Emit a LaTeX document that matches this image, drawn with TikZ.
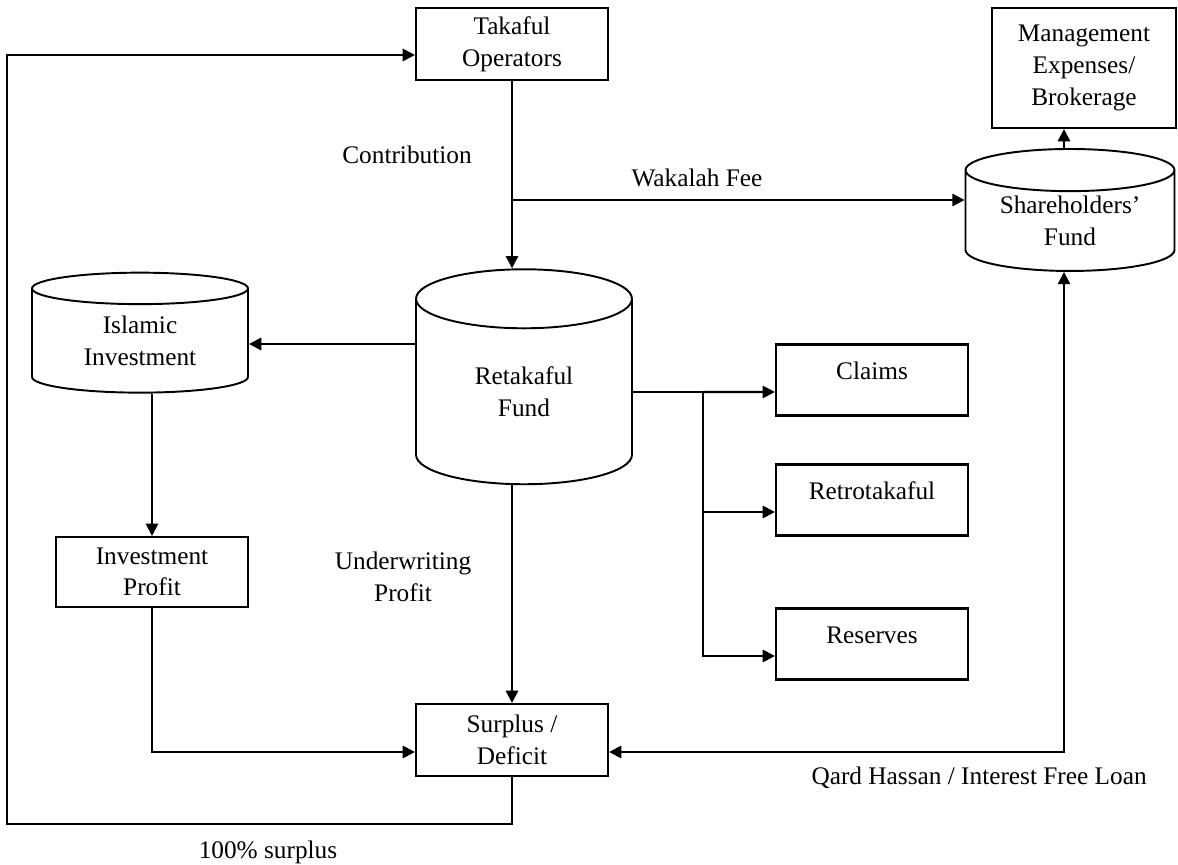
\documentclass[tikz,border=0pt]{standalone}
\usepackage{fontspec}
\setmainfont{Liberation Serif}
\usetikzlibrary{shapes.geometric,arrows.meta}

\tikzset{
  box/.style={draw, line width=1.2pt, rectangle, align=center, inner sep=0pt,
    minimum width=3.84cm, minimum height=1.42cm},
  topbox/.style={box, text depth=0.36cm},
  fund/.style={draw, line width=1.1pt, cylinder, shape border rotate=90,
    align=center, inner sep=0pt, minimum width=4.32cm},
  flow/.style={line width=1.2pt, -{Triangle[length=7pt,width=7pt]}},
  twoway/.style={line width=1.2pt, {Triangle[length=7pt,width=7pt]}-{Triangle[length=7pt,width=7pt]}},
  lbl/.style={align=center, inner sep=0pt}
}

\begin{document}
\begin{tikzpicture}[x=0.02cm, y=-0.02cm, font=\fontsize{14.4}{18}\selectfont]
\useasboundingbox (0,0) rectangle (1178,865);

% boxes
\node[box, minimum height=1.44cm] (takaful) at (512,44) {Takaful\\Operators};
\node[box, minimum width=3.68cm, minimum height=2.4cm] (mgmt) at (1084,68) {Management\\Expenses/\\Brokerage};
\node[topbox] (claims) at (872,380) {Claims};
\node[topbox] (retro) at (872,500) {Retrotakaful};
\node[topbox] (reserves) at (872,644) {Reserves};
\node[box, minimum height=1.4cm] (invprofit) at (152,572) {Investment\\Profit};
\node[box, minimum height=1.44cm] (surplus) at (512,740) {Surplus /\\Deficit};

% funds
\node[fund, minimum width=4.18cm, minimum height=2.44cm, aspect=0.3] (share) at (1070,221) {Shareholders'\\Fund};
\node[fund, minimum height=2.4cm, aspect=0.28] (islamic) at (140,341) {Islamic\\Investment};
\node[fund, minimum height=4.3cm, aspect=0.6] (retakaful) at (524,392) {Retakaful\\Fund};

% labels
\node[lbl] (contrib) at (407,155) {Contribution};
\node[lbl] (wakalah) at (697,178) {Wakalah Fee};
\node[lbl] (uwprofit) at (403,577) {Underwriting\\Profit};
\node[lbl, anchor=east] (qard) at (1147,778) {Qard Hassan / Interest Free Loan};
\node[lbl] (hundred) at (268,852) {100\% surplus};

\coordinate (wk) at (512,200);
\coordinate (split) at (703,392);
\coordinate (qx) at (1064,0);
\coordinate (loop) at (7,824);

% connectors
\draw[flow] (takaful.south) -- (takaful.south |- retakaful.north);
\draw[flow] (wk) -- (wk -| share.west);
\draw[flow] (retakaful.west |- 0,344) -- (islamic.east |- 0,344);
\draw[flow] (invprofit.north |- islamic.south) -- (invprofit.north);
\draw[flow] (invprofit.south) |- ([yshift=-0.24cm]surplus.west);
\draw[flow] (takaful.south |- retakaful.south) -- (surplus.north);
\draw[line width=1.2pt] (retakaful.east |- split) -- (split);
\draw[flow] (split) -- ([yshift=-0.24cm]claims.west);
\draw[flow] (split) |- ([yshift=-0.24cm]retro.west);
\draw[flow] (split) |- ([yshift=-0.24cm]reserves.west);
\draw[twoway] ([yshift=-0.24cm]surplus.east) -| (qx |- share.south);
\draw[flow] (qx |- share.north) -- (qx |- mgmt.south);
\draw[flow] (surplus.south) |- (loop) |- ([yshift=-0.22cm]takaful.west);

\end{tikzpicture}
\end{document}
